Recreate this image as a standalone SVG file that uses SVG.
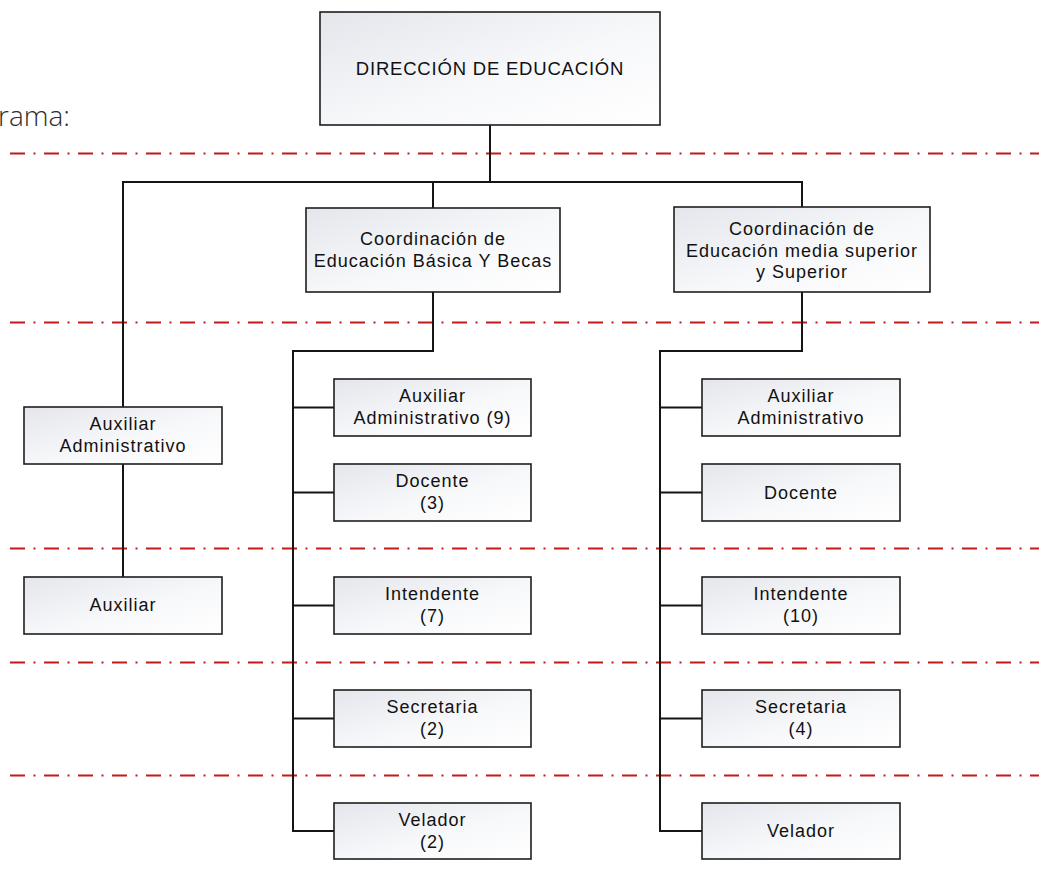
<svg xmlns="http://www.w3.org/2000/svg" width="1039" height="886" viewBox="0 0 1039 886">
  <defs>
    <linearGradient id="boxFill" x1="0" y1="0" x2="1" y2="1">
      <stop offset="0" stop-color="#e4e6ec"/>
      <stop offset="0.55" stop-color="#f7f8fa"/>
      <stop offset="1" stop-color="#ffffff"/>
    </linearGradient>
    <style>
      .box { fill: url(#boxFill); stroke: #1e1e1e; stroke-width: 1.6; }
      .lbl { font-family: "Liberation Sans", Arial, sans-serif; font-size: 18px; letter-spacing: 1px; fill: #111111; text-anchor: middle; }
      .big { font-size: 18.5px; letter-spacing: 0.8px; }
      .conn { fill: none; stroke: #151515; stroke-width: 2; }
      .guide { stroke: #c41a1a; stroke-width: 1.8; stroke-dasharray: 15 8.5 2 8.5; fill: none; }
      .head { font-family: "Open Sans", "Liberation Sans", sans-serif; font-weight: 300; font-size: 28px; fill: #2e2e2e; }
    </style>
  </defs>

  <rect width="1039" height="886" fill="#ffffff"/>

  <!-- heading fragment -->
  <text class="head" x="-2" y="126">rama:</text>

  <!-- level guide lines -->
  <g id="guides">
    <line class="guide" x1="10" y1="153.5" x2="1039" y2="153.5"/>
    <line class="guide" x1="10" y1="322.5" x2="1039" y2="322.5"/>
    <line class="guide" x1="10" y1="548.5" x2="1039" y2="548.5"/>
    <line class="guide" x1="10" y1="662.5" x2="1039" y2="662.5"/>
    <line class="guide" x1="10" y1="775.5" x2="1039" y2="775.5"/>
  </g>

  <!-- connectors -->
  <g id="connectors">
    <path class="conn" d="M490,125 V182"/>
    <path class="conn" d="M123,407 V182 H802 V207"/>
    <path class="conn" d="M433,182 V208"/>
    <path class="conn" d="M123,464 V577"/>
    <path class="conn" d="M433,292 V351 H293 V831 H334"/>
    <path class="conn" d="M293,407.5 H334 M293,492.5 H334 M293,605.5 H334 M293,718.5 H334"/>
    <path class="conn" d="M802,292 V351 H660 V831 H702"/>
    <path class="conn" d="M660,407.5 H702 M660,492.5 H702 M660,605.5 H702 M660,718.5 H702"/>
  </g>

  <!-- top -->
  <g id="direccion">
    <rect class="box" x="320" y="12" width="340" height="113"/>
    <text class="lbl big" x="490" y="75">DIRECCIÓN DE EDUCACIÓN</text>
  </g>

  <!-- coordinations -->
  <g id="coord-basica">
    <rect class="box" x="306" y="208" width="254" height="84"/>
    <text class="lbl" x="433" y="245">Coordinación de</text>
    <text class="lbl" x="433" y="267">Educación Básica Y Becas</text>
  </g>
  <g id="coord-media">
    <rect class="box" x="674" y="207" width="256" height="85"/>
    <text class="lbl" x="802" y="235">Coordinación de</text>
    <text class="lbl" x="802" y="256.5">Educación media superior</text>
    <text class="lbl" x="802" y="278">y Superior</text>
  </g>

  <!-- left branch -->
  <g id="aux-admin-dir">
    <rect class="box" x="24" y="407" width="198" height="57"/>
    <text class="lbl" x="123" y="430">Auxiliar</text>
    <text class="lbl" x="123" y="452">Administrativo</text>
  </g>
  <g id="auxiliar-dir">
    <rect class="box" x="24" y="577" width="198" height="57"/>
    <text class="lbl" x="123" y="611">Auxiliar</text>
  </g>

  <!-- basic education column -->
  <g id="cb-aux-admin">
    <rect class="box" x="334" y="379" width="197" height="57"/>
    <text class="lbl" x="432.5" y="402">Auxiliar</text>
    <text class="lbl" x="432.5" y="424">Administrativo (9)</text>
  </g>
  <g id="cb-docente">
    <rect class="box" x="334" y="464" width="197" height="57"/>
    <text class="lbl" x="432.5" y="487">Docente</text>
    <text class="lbl" x="432.5" y="509">(3)</text>
  </g>
  <g id="cb-intendente">
    <rect class="box" x="334" y="577" width="197" height="57"/>
    <text class="lbl" x="432.5" y="600">Intendente</text>
    <text class="lbl" x="432.5" y="622">(7)</text>
  </g>
  <g id="cb-secretaria">
    <rect class="box" x="334" y="690" width="197" height="57"/>
    <text class="lbl" x="432.5" y="713">Secretaria</text>
    <text class="lbl" x="432.5" y="735">(2)</text>
  </g>
  <g id="cb-velador">
    <rect class="box" x="334" y="803" width="197" height="56"/>
    <text class="lbl" x="432.5" y="825.5">Velador</text>
    <text class="lbl" x="432.5" y="847.5">(2)</text>
  </g>

  <!-- upper/secondary education column -->
  <g id="cm-aux-admin">
    <rect class="box" x="702" y="379" width="198" height="57"/>
    <text class="lbl" x="801" y="402">Auxiliar</text>
    <text class="lbl" x="801" y="424">Administrativo</text>
  </g>
  <g id="cm-docente">
    <rect class="box" x="702" y="464" width="198" height="57"/>
    <text class="lbl" x="801" y="498.5">Docente</text>
  </g>
  <g id="cm-intendente">
    <rect class="box" x="702" y="577" width="198" height="57"/>
    <text class="lbl" x="801" y="600">Intendente</text>
    <text class="lbl" x="801" y="622">(10)</text>
  </g>
  <g id="cm-secretaria">
    <rect class="box" x="702" y="690" width="198" height="57"/>
    <text class="lbl" x="801" y="713">Secretaria</text>
    <text class="lbl" x="801" y="735">(4)</text>
  </g>
  <g id="cm-velador">
    <rect class="box" x="702" y="803" width="198" height="56"/>
    <text class="lbl" x="801" y="837">Velador</text>
  </g>
</svg>
